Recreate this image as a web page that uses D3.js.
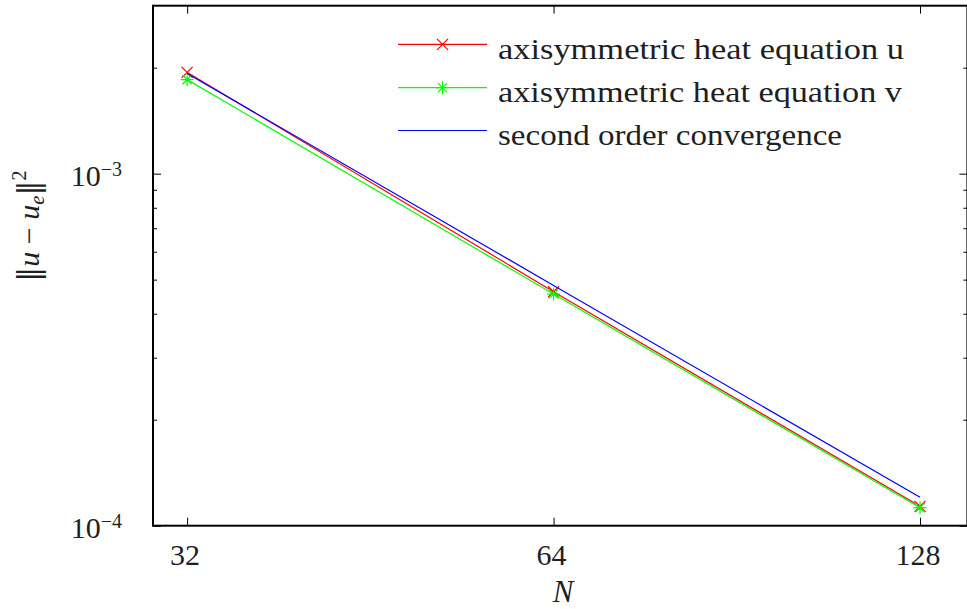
<!DOCTYPE html>
<html>
<head>
<meta charset="utf-8">
<script src="https://cdn.jsdelivr.net/npm/d3@7"></script>
<style>
  html, body { margin: 0; padding: 0; background: #fff; }
  svg { display: block; }
  svg text { font-family: "Liberation Serif", "Times New Roman", "DejaVu Serif", serif; fill: #1f1f1f; }
</style>
</head>
<body>
<svg id="chart" width="967" height="609"></svg>
<script>
// ---- data ----
const N = [32, 64, 128];
const errU = [1.94e-3, 4.62e-4, 1.135e-4];
const errV = [1.85e-3, 4.55e-4, 1.125e-4];
const secondOrder = [1.926e-3, 4.815e-4, 1.204e-4];
const seriesNames = ["axisymmetric heat equation u", "axisymmetric heat equation v", "second order convergence"];
const xTickValues = [32, 64, 128];
const yMajorTicks = [1e-4, 1e-3];
const yMajorExponents = ["\u22124", "\u22123"];
const yMinorTicks = [2e-4, 3e-4, 4e-4, 5e-4, 6e-4, 7e-4, 8e-4, 9e-4, 2e-3];

// ---- layout ----
const L = 153, R = 967.4, T = 5.7, B = 525.7;
const SERIF = "'Liberation Serif', 'Times New Roman', 'DejaVu Serif', serif";
const svg = d3.select("#chart");
const x = d3.scaleLog().domain([30, 140]).range([L, R]);
const y = d3.scaleLog().domain([1e-4, 3e-3]).range([B, T]);

// axes (ticks inward)
const gx = svg.append("g").attr("transform", `translate(0,${B})`)
  .call(d3.axisBottom(x).tickValues(xTickValues).tickSize(-8).tickFormat(d3.format("d")));
gx.attr("font-family", SERIF);
gx.selectAll("text").attr("y", 0).attr("dy", 0).attr("dx", -2.5)
  .attr("transform", "translate(0,39.5)").style("font-size", "30px").style("font-family", SERIF).attr("fill", "#1f1f1f");
svg.append("g").attr("transform", `translate(0,${T})`)
  .call(d3.axisTop(x).tickValues(xTickValues).tickSize(-8).tickFormat(""));

svg.append("g").attr("transform", `translate(${L},0)`)
  .call(d3.axisLeft(y).tickValues(yMajorTicks).tickSize(-8).tickFormat(""));
svg.append("g").attr("transform", `translate(${L},0)`)
  .call(d3.axisLeft(y).tickValues(yMinorTicks).tickSize(-4).tickFormat(""));
svg.append("g").attr("transform", `translate(${R},0)`)
  .call(d3.axisRight(y).tickValues(yMajorTicks).tickSize(-8).tickFormat(""));
svg.append("g").attr("transform", `translate(${R},0)`)
  .call(d3.axisRight(y).tickValues(yMinorTicks).tickSize(-4).tickFormat(""));

svg.selectAll(".domain").remove();
svg.selectAll(".tick line").attr("stroke", "#000").attr("stroke-width", 1);

// y tick labels with superscripts
yMajorTicks.forEach((v, i) => {
  const t = svg.append("text")
    .attr("x", 122).attr("y", y(v) + 12)
    .attr("text-anchor", "end")
    .style("font-family", SERIF)
    .style("font-size", "30px");
  t.append("tspan").text("10");
  t.append("tspan").attr("dy", -10).style("font-size", "20px").text(yMajorExponents[i]);
});

// box
svg.append("rect").attr("x", L).attr("y", T).attr("width", R - L).attr("height", B - T)
  .attr("fill", "none").attr("stroke", "#000").attr("stroke-width", 2);

// ---- series ----
const line = d3.line().x((d, i) => x(N[i])).y(d => y(d));
const colors = ["#ff0000", "#00ff00", "#0000ff"];

function xMarker(g, cx, cy, color) {
  const s = 5.5;
  g.append("path").attr("d", `M${cx - s},${cy - s}L${cx + s},${cy + s}M${cx - s},${cy + s}L${cx + s},${cy - s}`)
    .attr("stroke", color).attr("stroke-width", 1.2).attr("fill", "none");
}
function starMarker(g, cx, cy, color) {
  const s = 6.5, d = 4.6;
  g.append("path").attr("d",
    `M${cx - s},${cy}L${cx + s},${cy}M${cx},${cy - s}L${cx},${cy + s}` +
    `M${cx - d},${cy - d}L${cx + d},${cy + d}M${cx - d},${cy + d}L${cx + d},${cy - d}`)
    .attr("stroke", color).attr("stroke-width", 1.2).attr("fill", "none");
}

const plot = svg.append("g");
plot.append("path").datum(errU).attr("d", line).attr("fill", "none").attr("stroke", colors[0]).attr("stroke-width", 1.2);
errU.forEach((v, i) => xMarker(plot, x(N[i]), y(v), colors[0]));
plot.append("path").datum(errV).attr("d", line).attr("fill", "none").attr("stroke", colors[1]).attr("stroke-width", 1.2);
errV.forEach((v, i) => starMarker(plot, x(N[i]), y(v), colors[1]));
plot.append("path").datum(secondOrder).attr("d", line).attr("fill", "none").attr("stroke", colors[2]).attr("stroke-width", 1.2);

// ---- legend ----
const legRows = [44.3, 87.7, 130.5];
const legWidths = [406, 404, 344];
legRows.forEach((ry, i) => {
  svg.append("line").attr("x1", 398).attr("x2", 487).attr("y1", ry).attr("y2", ry)
    .attr("stroke", colors[i]).attr("stroke-width", 1.2);
  if (i === 0) xMarker(svg, 442.5, ry, colors[0]);
  if (i === 1) starMarker(svg, 442.5, ry, colors[1]);
  svg.append("text").attr("x", 498).attr("y", ry + 14.7)
    .style("font-family", SERIF)
    .style("font-size", "30px")
    .attr("textLength", legWidths[i]).attr("lengthAdjust", "spacingAndGlyphs")
    .text(seriesNames[i]);
});

// ---- axis labels ----
svg.append("text").attr("x", 563).attr("y", 602).attr("text-anchor", "middle")
  .style("font-family", SERIF)
  .style("font-size", "31px").style("font-style", "italic").text("N");

const yl = svg.append("text").attr("transform", "translate(39,226) rotate(-90)")
  .attr("text-anchor", "middle").style("font-family", SERIF).style("font-size", "30px");
yl.append("tspan").style("font-family", "'DejaVu Serif'").style("font-size", "30px").text("\u2016");
yl.append("tspan").style("font-style", "italic").text("u");
yl.append("tspan").text(" \u2212 ");
yl.append("tspan").style("font-style", "italic").text("u");
yl.append("tspan").attr("dy", 5).style("font-style", "italic").style("font-size", "21px").text("e");
yl.append("tspan").attr("dy", -5).style("font-family", "'DejaVu Serif'").style("font-size", "30px").text("\u2016");
yl.append("tspan").attr("dy", -13).style("font-size", "20px").text("2");
</script>
</body>
</html>
